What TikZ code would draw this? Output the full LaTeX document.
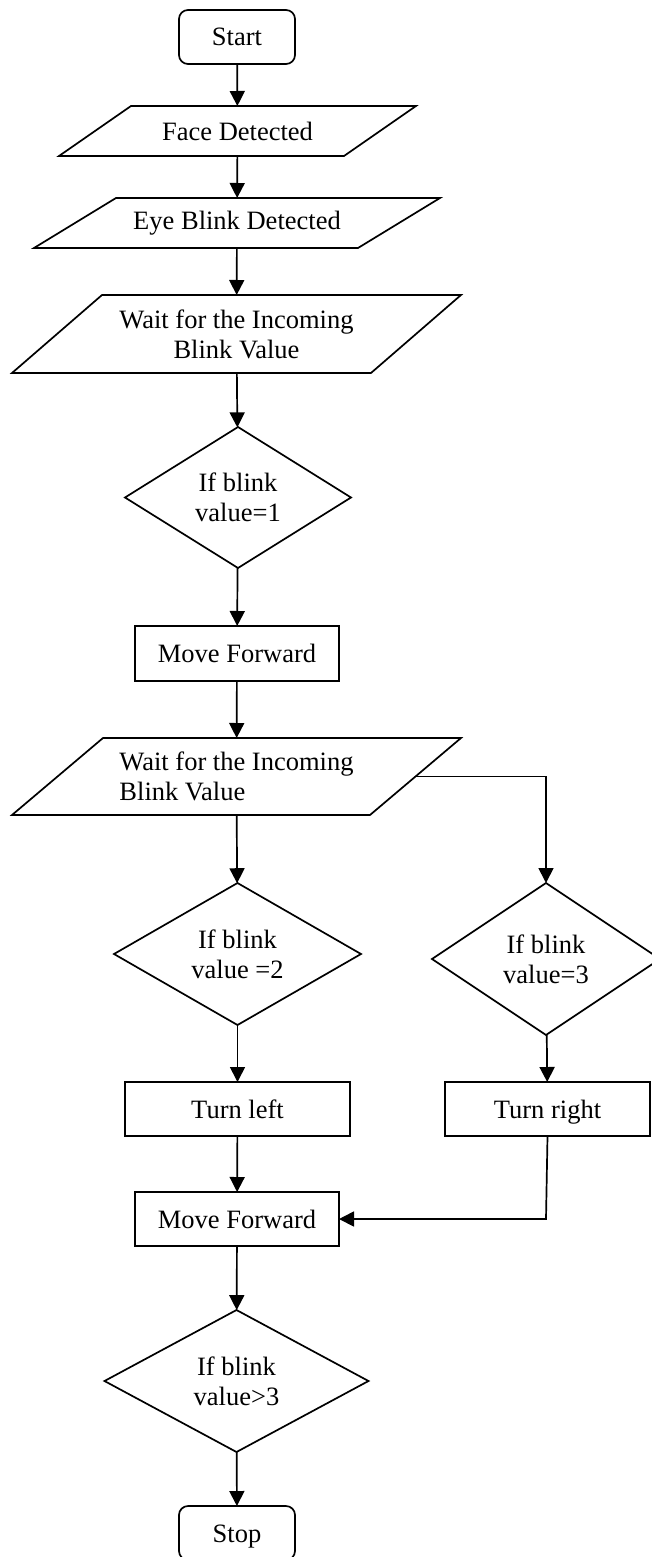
\documentclass[tikz,border=0pt]{standalone}
\usepackage{fontspec}
\setmainfont{Liberation Serif}
\usetikzlibrary{arrows.meta,shapes.geometric}
\tikzset{
  base/.style={inner sep=0pt, outer sep=0pt, line width=1.7pt, font=\fontsize{26.5}{30}\selectfont, align=center},
  term/.style={base, draw, rounded corners=9pt, minimum width=116pt, minimum height=54pt, text height=19pt, text depth=1pt},
  box/.style={base, draw, minimum height=54pt, text height=19pt, text depth=1pt},
  para/.style={base},
  dec/.style={base, draw, diamond},
  conn/.style={line width=1.7pt, -{Triangle[length=15pt,width=15pt]}},
  outline/.style={line width=1.7pt, line join=miter}
}
\newcommand{\paraoutline}[2]{%
  \draw[outline] ([xshift=#2/2]#1.north west) -- ([xshift=#2/2]#1.north east)
    -- ([xshift=-#2/2]#1.south east) -- ([xshift=-#2/2]#1.south west) -- cycle;}
\begin{document}
\begin{tikzpicture}[x=1pt,y=-1pt]
\useasboundingbox[fill=white] (0,0) rectangle (652,1557);
\node[term] (start) at (237,37) {Start};
\node[para, minimum width=285pt, minimum height=50pt] (face) at (237.5,131) {Face Detected};
\paraoutline{face}{72pt}
\node[para, minimum width=324pt, minimum height=50pt] (eye) at (237,223) {Eye Blink Detected};
\paraoutline{eye}{82pt}
\node[para, minimum width=359pt, minimum height=78pt] (wait1) at (236.5,334) {Wait for the Incoming\\Blink Value};
\paraoutline{wait1}{90pt}
\node[dec, minimum width=226pt, minimum height=141pt] (d1) at (238,497.5) {If blink\\value=1};
\node[box, minimum width=204pt, minimum height=55pt] (mf1) at (237,653.5) {Move Forward};
\node[para, align=left, minimum width=358pt, minimum height=77pt] (wait2) at (236.5,776.5) {Wait for the Incoming\\Blink Value};
\paraoutline{wait2}{91pt}
\node[dec, minimum width=247pt, minimum height=142pt] (d2) at (237.5,954) {If blink\\value =2};
\node[dec, minimum width=228pt, minimum height=152pt] (d3) at (546,959) {If blink\\value=3};
\node[box, minimum width=225pt] (tl) at (237.5,1109) {Turn left};
\node[box, minimum width=205pt] (tr) at (547.5,1109) {Turn right};
\node[box, minimum width=204pt] (mf2) at (237,1219) {Move Forward};
\node[dec, minimum width=264pt, minimum height=142pt] (d4) at (236.5,1381) {If blink\\value>3};
\node[term] (stop) at (237,1533) {Stop};
\coordinate (br) at (546,776.5);
\coordinate (jr) at (546,1219);
\draw[conn] (start) -- (face);
\draw[conn] (face) -- (eye);
\draw[conn] (eye) -- (wait1);
\draw[conn] (wait1) -- (d1);
\draw[conn] (d1) -- (mf1);
\draw[conn] (mf1) -- (wait2);
\draw[conn] (wait2) -- (d2);
\draw[conn] (wait2.east) -- (br) -- (d3.north);
\draw[conn] (d2) -- (tl);
\draw[conn] (d3) -- (tr);
\draw[conn] (tl) -- (mf2);
\draw[conn] (tr.south) -- (jr) -- (mf2.east);
\draw[conn] (mf2) -- (d4);
\draw[conn] (d4) -- (stop);
\end{tikzpicture}
\end{document}
